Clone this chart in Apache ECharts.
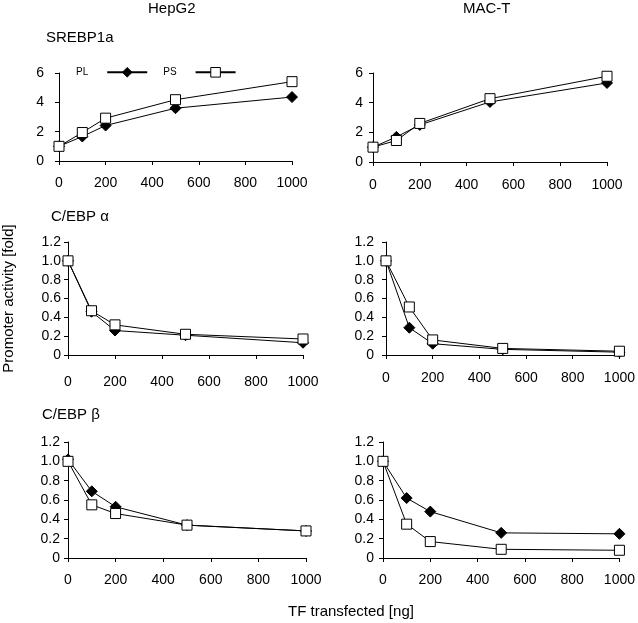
<!DOCTYPE html>
<html>
<head>
<meta charset="utf-8">
<script src="https://cdn.jsdelivr.net/npm/echarts@6/dist/echarts.min.js"></script>
<style>
  html, body { margin: 0; padding: 0; background: #fff; }
  #chart { width: 638px; height: 623px; }
</style>
</head>
<body>
<div id="chart"></div>
<script>
// TF transfected [ng]
const doses = [0, 100, 200, 500, 1000];
const xTicks = [0, 200, 400, 600, 800, 1000];

// SREBP1a
const hepSrebPL = [1.0, 1.67, 2.42, 3.6, 4.36];
const hepSrebPS = [1.0, 1.94, 2.92, 4.18, 5.41];
const macSrebPL = [1.0, 1.69, 2.5, 4.05, 5.33];
const macSrebPS = [1.0, 1.45, 2.6, 4.27, 5.78];
// C/EBP alpha
const hepAlphaPL = [1.0, 0.46, 0.26, 0.21, 0.13];
const hepAlphaPS = [1.0, 0.47, 0.32, 0.22, 0.17];
const macAlphaPL = [1.0, 0.29, 0.12, 0.06, 0.03];
const macAlphaPS = [1.0, 0.51, 0.16, 0.07, 0.04];
// C/EBP beta
const hepBetaPL = [1.02, 0.69, 0.53, 0.34, 0.28];
const hepBetaPS = [1.0, 0.55, 0.46, 0.34, 0.28];
const macBetaPL = [1.0, 0.62, 0.48, 0.26, 0.25];
const macBetaPS = [1.0, 0.35, 0.17, 0.09, 0.08];

const font = 'Liberation Sans, Arial, sans-serif';

// grid boxes in px
const grids = [
  {left: 59, top: 73, width: 233, height: 88},
  {left: 373, top: 73, width: 234, height: 89},
  {left: 68, top: 242, width: 235, height: 113},
  {left: 386, top: 242, width: 235, height: 113},
  {left: 68, top: 442, width: 238, height: 116},
  {left: 383, top: 442, width: 237, height: 116}
];
const yLabelMargin = [15, 10, 7, 12, 8, 9];
const xLabelMargin = [15, 16, 20, 16, 15, 15];

const pairs = (ys) => doses.map((d, i) => [d, ys[i]]);

const xAxes = grids.map((g, i) => ({
  type: 'value', gridIndex: i, min: xTicks[0], max: xTicks[xTicks.length - 1], interval: 200,
  axisLine: {lineStyle: {color: '#000', width: 1}},
  axisTick: {show: true, inside: false, length: 4, lineStyle: {color: '#000'}},
  axisLabel: {color: '#000', fontFamily: font, fontSize: 14, margin: xLabelMargin[i], formatter: (v) => String(v)},
  splitLine: {show: false}
}));

const yAxes = grids.map((g, i) => {
  const top = i < 2;
  return {
    type: 'value', gridIndex: i, min: 0, max: top ? 6 : 1.2, interval: top ? 2 : 0.2,
    axisLine: {show: true, lineStyle: {color: '#000', width: 1}},
    axisTick: {show: true, inside: false, length: 4, lineStyle: {color: '#000'}},
    axisLabel: {
      color: '#000', fontFamily: font, fontSize: 14, margin: yLabelMargin[i],
      formatter: (v) => top || v === 0 ? String(v) : v.toFixed(1)
    },
    splitLine: {show: false}
  };
});
yAxes[2].name = 'Promoter activity [fold]';
yAxes[2].nameLocation = 'middle';
yAxes[2].nameGap = 52;
yAxes[2].nameTextStyle = {color: '#000', fontFamily: font, fontSize: 15};

const plSeries = (i, ys) => ({
  name: 'PL', type: 'line', xAxisIndex: i, yAxisIndex: i, data: pairs(ys),
  symbol: 'diamond', symbolSize: 11,
  lineStyle: {color: '#000', width: 1},
  itemStyle: {color: '#000', borderColor: '#000'},
  animation: false
});
const psSeries = (i, ys) => ({
  name: 'PS', type: 'line', xAxisIndex: i, yAxisIndex: i, data: pairs(ys),
  symbol: 'rect', symbolSize: 10,
  lineStyle: {color: '#000', width: 1},
  itemStyle: {color: '#fff', borderColor: '#000', borderWidth: 1},
  animation: false
});

const titleStyle = {color: '#000', fontFamily: font, fontSize: 15, fontWeight: 'normal'};
const mkTitle = (text, left, top) => ({text, left, top, padding: 0, textStyle: titleStyle});

const option = {
  backgroundColor: '#fff',
  animation: false,
  title: [
    mkTitle('HepG2', 148, 1),
    mkTitle('MAC-T', 463, 1),
    mkTitle('SREBP1a', 46, 30),
    mkTitle('C/EBP α', 51, 209),
    mkTitle('C/EBP β', 42, 407),
    mkTitle('TF transfected [ng]', 288, 604)
  ],
  legend: {
    data: ['PL', 'PS'], left: 76, top: 67, align: 'right', padding: 0,
    itemWidth: 40, itemHeight: 12, itemGap: 15,
    itemStyle: {borderWidth: 1},
    textStyle: {color: '#000', fontFamily: font, fontSize: 10, padding: [0, 14, 0, 0]}
  },
  grid: grids,
  xAxis: xAxes,
  yAxis: yAxes,
  series: [
    plSeries(0, hepSrebPL), psSeries(0, hepSrebPS),
    plSeries(1, macSrebPL), psSeries(1, macSrebPS),
    plSeries(2, hepAlphaPL), psSeries(2, hepAlphaPS),
    plSeries(3, macAlphaPL), psSeries(3, macAlphaPS),
    plSeries(4, hepBetaPL), psSeries(4, hepBetaPS),
    plSeries(5, macBetaPL), psSeries(5, macBetaPS)
  ]
};

const myChart = echarts.init(document.getElementById('chart'));
myChart.setOption(option);
</script>
</body>
</html>
